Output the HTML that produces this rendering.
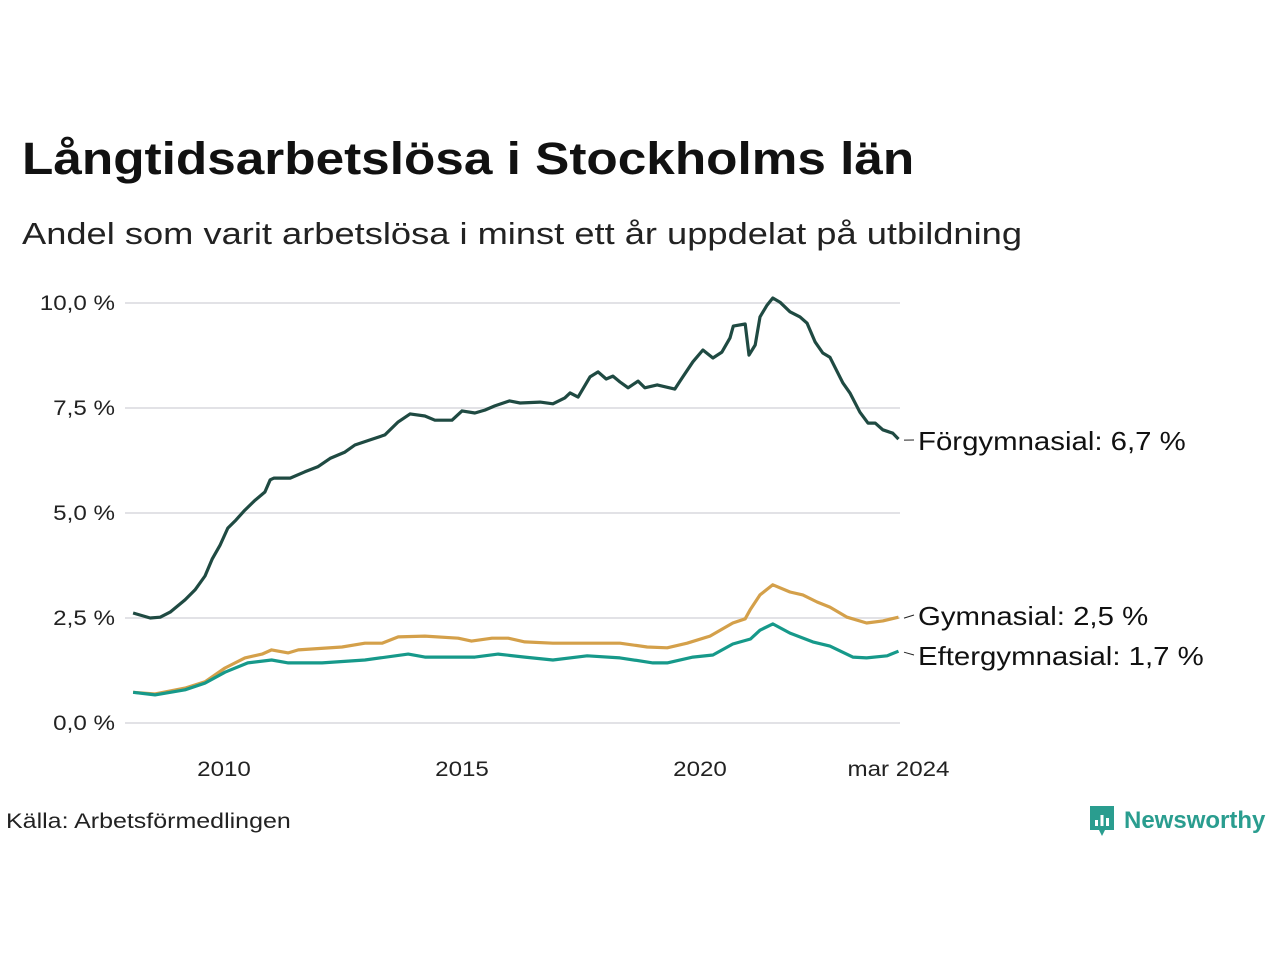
<!DOCTYPE html>
<html><head><meta charset="utf-8"><style>
body{margin:0;background:#fff;font-family:"Liberation Sans",sans-serif;}
#wrap{position:relative;width:1280px;height:960px;overflow:hidden;}
h1{position:absolute;left:22px;top:133px;margin:0;font-size:45px;font-weight:bold;color:#111;transform:scaleX(1.14);transform-origin:0 0;white-space:nowrap;}
.sub{position:absolute;left:22px;top:216px;font-size:31px;color:#222;transform:scaleX(1.17);transform-origin:0 0;white-space:nowrap;}
.src{position:absolute;left:6px;top:810px;font-size:21px;color:#222;transform:scaleX(1.19);transform-origin:0 0;white-space:nowrap;}
.logo{position:absolute;left:1088px;top:804px;display:flex;align-items:center;}
.logo span{font-size:24px;font-weight:bold;color:#2a9d8f;margin-left:8px;}
</style></head><body><div id="wrap">
<h1>Långtidsarbetslösa i Stockholms län</h1>
<div class="sub">Andel som varit arbetslösa i minst ett år uppdelat på utbildning</div>
<svg id="chart" width="1280" height="960" style="position:absolute;left:0;top:0"></svg>
<div class="src">Källa: Arbetsförmedlingen</div>
<div class="logo"><svg width="28" height="34" viewBox="0 0 28 34"><path d="M2 2h24v24H17l-3 6-3-6H2z" fill="#2a9d8f"/><rect x="7" y="16" width="3" height="6" fill="#fff"/><rect x="12.5" y="11" width="3" height="11" fill="#fff"/><rect x="18" y="14" width="3" height="8" fill="#fff"/></svg><span>Newsworthy</span></div>
</div>
<script>
const forDates=[2008.09,2008.45,2008.66,2008.87,2009.18,2009.39,2009.6,2009.75,2009.92,2010.08,2010.25,2010.44,2010.65,2010.86,2010.97,2011.05,2011.39,2011.7,2011.97,2012.23,2012.54,2012.75,2013.07,2013.38,2013.66,2013.91,2014.22,2014.43,2014.79,2015.0,2015.27,2015.48,2015.69,2016.0,2016.22,2016.64,2016.91,2017.16,2017.27,2017.44,2017.69,2017.86,2018.03,2018.17,2018.32,2018.49,2018.7,2018.84,2019.1,2019.47,2019.62,2019.85,2020.06,2020.27,2020.46,2020.63,2020.7,2020.95,2021.03,2021.16,2021.26,2021.41,2021.53,2021.68,2021.89,2022.1,2022.25,2022.42,2022.58,2022.73,2023.0,2023.15,2023.36,2023.53,2023.68,2023.84,2024.05,2024.17];
const forVals=[2.62,2.5,2.52,2.64,2.93,3.17,3.5,3.9,4.24,4.64,4.83,5.07,5.3,5.5,5.79,5.83,5.83,5.98,6.1,6.3,6.45,6.62,6.74,6.86,7.17,7.36,7.31,7.21,7.21,7.43,7.38,7.45,7.55,7.67,7.62,7.64,7.6,7.74,7.86,7.76,8.24,8.36,8.19,8.26,8.12,7.98,8.14,7.98,8.05,7.95,8.21,8.6,8.88,8.69,8.83,9.17,9.45,9.5,8.76,9.0,9.67,9.95,10.12,10.02,9.79,9.67,9.52,9.07,8.81,8.71,8.1,7.86,7.4,7.14,7.14,6.98,6.9,6.76];
const gymDates=[2008.09,2008.55,2009.18,2009.6,2010.02,2010.44,2010.8,2011.0,2011.35,2011.56,2012.48,2012.96,2013.32,2013.66,2014.22,2014.92,2015.2,2015.63,2015.97,2016.32,2016.91,2017.63,2018.32,2018.89,2019.31,2019.73,2020.21,2020.69,2020.95,2021.06,2021.26,2021.53,2021.89,2022.16,2022.46,2022.73,2023.09,2023.5,2023.84,2024.17];
const gymVals=[0.73,0.69,0.83,0.98,1.31,1.55,1.64,1.74,1.67,1.74,1.81,1.9,1.9,2.05,2.07,2.02,1.95,2.02,2.02,1.93,1.9,1.9,1.9,1.81,1.79,1.9,2.07,2.38,2.48,2.71,3.05,3.29,3.12,3.05,2.88,2.76,2.52,2.38,2.43,2.52];
const eftDates=[2008.09,2008.55,2009.18,2009.6,2010.02,2010.5,2011.0,2011.35,2012.06,2012.96,2013.87,2014.22,2015.27,2015.76,2016.32,2016.91,2017.63,2018.32,2019.01,2019.31,2019.85,2020.27,2020.69,2021.06,2021.26,2021.53,2021.89,2022.37,2022.73,2023.21,2023.5,2023.93,2024.17];
const eftVals=[0.73,0.67,0.79,0.95,1.21,1.43,1.5,1.43,1.43,1.5,1.64,1.57,1.57,1.64,1.57,1.5,1.6,1.55,1.43,1.43,1.57,1.62,1.88,2.0,2.21,2.36,2.14,1.93,1.83,1.57,1.55,1.6,1.71];
const yTicks=[0,2.5,5,7.5,10];
const yTickLabels=["0,0 %","2,5 %","5,0 %","7,5 %","10,0 %"];
const xTicks=[2010,2015,2020,2024.17];
const xTickLabels=["2010","2015","2020","mar 2024"];
const seriesNames=["Förgymnasial: 6,7 %","Gymnasial: 2,5 %","Eftergymnasial: 1,7 %"];

const NS="http://www.w3.org/2000/svg";
const svg=document.getElementById('chart');
const X=t=>224+(t-2010)*47.6;
const Y=v=>723-v*42;
function mk(tag,attrs){const e=document.createElementNS(NS,tag);for(const k in attrs)e.setAttribute(k,attrs[k]);svg.appendChild(e);return e;}
function widen(t,f){const w=t.getComputedTextLength();t.setAttribute('textLength',(w*f).toFixed(1));t.setAttribute('lengthAdjust','spacingAndGlyphs');}
yTicks.forEach((v,i)=>{
  const g=mk('line',{x1:125,x2:900,y1:Y(v),y2:Y(v),stroke:'#e2e2e6','stroke-width':2});
  
  
  const t=mk('text',{x:115,y:Y(v)+7,'text-anchor':'end','font-size':21,fill:'#222'});
  t.textContent=yTickLabels[i];
  
  
  widen(t,1.15);
});
xTicks.forEach((v,i)=>{
  const t=mk('text',{x:X(v),y:776,'text-anchor':'middle','font-size':21,fill:'#222'});
  t.textContent=xTickLabels[i];
  
  
  widen(t,1.15);
});
const series=[[forDates,forVals,'#1f4a42','forgymnasial-line'],[gymDates,gymVals,'#d4a04a','gymnasial-line'],[eftDates,eftVals,'#16998a','eftergymnasial-line']];
const labelY=[441,616,656];
series.forEach(([d,v,c,n],i)=>{
  const p=mk('path',{d:d.map((t,j)=>(j?'L':'M')+X(t).toFixed(1)+','+Y(v[j]).toFixed(1)).join(''),fill:'none',stroke:c,'stroke-width':3.2,'stroke-linejoin':'round'});
  
  
  const ly=Y(v[v.length-1]);
  const l=mk('line',{x1:904,y1:ly+1,x2:914,y2:labelY[i]-1,stroke:'#222','stroke-width':1});
  
  
  const t=mk('text',{x:918,y:labelY[i]+9,'font-size':26,fill:'#111'});
  t.textContent=seriesNames[i];
  
  
  widen(t,1.13);
});
</script></body></html>
